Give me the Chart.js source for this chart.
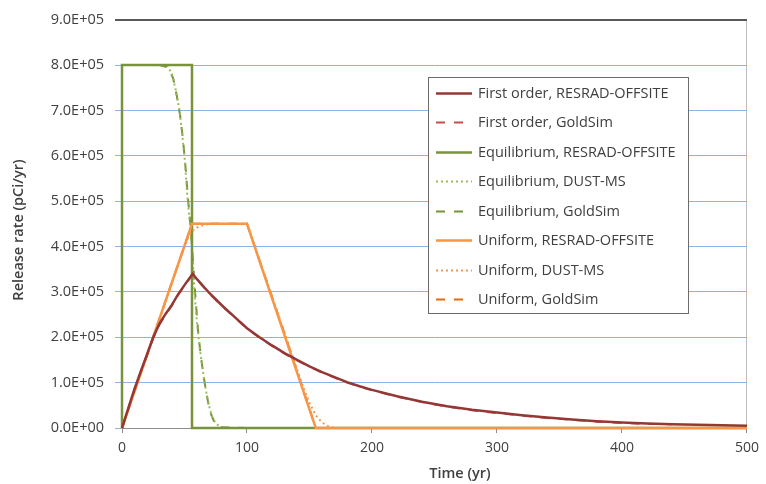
<!DOCTYPE html>
<html>
<head>
<meta charset="utf-8">
<script src="https://cdn.jsdelivr.net/npm/chart.js@4.4.1/dist/chart.umd.min.js"></script>
<style>
  html, body { margin: 0; padding: 0; background: #fff; }
  #wrap { width: 766px; height: 484px; }
</style>
</head>
<body>
<div id="wrap"><canvas id="chartRel" width="766" height="484"></canvas></div>
<script>
// release rates in units of 1E+05 pCi/yr
const seriesNames = [
  'First order, RESRAD-OFFSITE', 'First order, GoldSim',
  'Equilibrium, RESRAD-OFFSITE', 'Equilibrium, DUST-MS', 'Equilibrium, GoldSim',
  'Uniform, RESRAD-OFFSITE', 'Uniform, DUST-MS', 'Uniform, GoldSim'
];

const firstOrderT = [0, 5, 10, 15, 20, 25, 30, 35, 40, 45, 50, 56.5, 60, 70, 80, 90, 100, 110, 120, 130, 140, 150, 160, 170, 180, 190, 200, 220, 240, 260, 280, 300, 320, 340, 360, 380, 400, 420, 440, 460, 480, 500];
const firstOrderResrad = [0, 0.43, 0.86, 1.25, 1.62, 2.0, 2.3, 2.52, 2.72, 2.95, 3.15, 3.4, 3.28, 2.97, 2.7, 2.45, 2.2, 2.0, 1.82, 1.65, 1.5, 1.36, 1.23, 1.12, 1.01, 0.92, 0.84, 0.7, 0.58, 0.48, 0.4, 0.34, 0.28, 0.23, 0.19, 0.15, 0.12, 0.1, 0.08, 0.07, 0.06, 0.05];
const firstOrderGoldT = [0, 5, 10, 15, 20, 25, 30, 35, 40, 45, 50, 56.5, 60, 70, 80, 90, 100, 110, 120, 130, 140, 150, 160, 170, 180, 190, 200, 220, 240, 260, 280, 300, 320, 340, 360, 380, 400, 420, 440];
const firstOrderGold = [0, 0.42, 0.85, 1.24, 1.6, 1.98, 2.28, 2.5, 2.7, 2.94, 3.14, 3.38, 3.27, 2.96, 2.69, 2.44, 2.19, 1.99, 1.81, 1.64, 1.49, 1.35, 1.22, 1.11, 1.0, 0.91, 0.83, 0.69, 0.57, 0.47, 0.39, 0.33, 0.27, 0.22, 0.18, 0.14, 0.11, 0.09, 0.08];

const equilResradT = [0, 0, 56, 56, 500];
const equilResrad = [0, 8, 8, 0, 0];
const equilDustT = [0, 10, 20, 30, 36, 40, 43, 46, 48, 50, 52, 54, 56, 58, 60, 62, 64, 66, 68, 70, 72, 75, 80, 100, 200, 300, 400, 500];
const equilDust = [8, 8, 8, 8, 8, 7.8, 7.45, 7.0, 6.5, 6.0, 5.2, 4.6, 4.0, 3.0, 2.3, 1.8, 1.4, 1.0, 0.7, 0.45, 0.25, 0.1, 0, 0, 0, 0, 0, 0];
const equilGoldT = [0, 10, 20, 30, 37, 41, 44, 47, 49, 51, 53, 55, 57, 59, 61, 63, 65, 67, 69, 71, 74, 78, 100, 200, 300, 400, 500];
const equilGold = [8, 8, 8, 8, 7.95, 7.7, 7.3, 6.8, 6.3, 5.7, 5.0, 4.4, 3.6, 2.8, 2.1, 1.6, 1.2, 0.85, 0.55, 0.32, 0.12, 0.02, 0, 0, 0, 0, 0];

const uniformResradT = [0, 56, 100, 155, 500];
const uniformResrad = [0, 4.5, 4.5, 0, 0];
const uniformDustT = [0, 10, 20, 30, 40, 50, 55, 60, 65, 70, 80, 90, 100, 110, 120, 130, 140, 145, 150, 155, 160, 165, 170, 200, 300, 400, 500];
const uniformDust = [0, 0.8, 1.6, 2.4, 3.2, 4.0, 4.32, 4.42, 4.47, 4.5, 4.5, 4.5, 4.5, 3.7, 2.9, 2.1, 1.3, 0.9, 0.55, 0.28, 0.12, 0.04, 0, 0, 0, 0, 0];
const uniformGoldT = [0, 28, 56, 78, 100, 128, 155, 500];
const uniformGold = [0, 2.25, 4.5, 4.5, 4.5, 2.25, 0, 0];

const yTicksMax = 9; // 9.0E+05

function pts(ts, vs) {
  return ts.map((t, i) => ({ x: t, y: vs[i] * 1e5 }));
}

function sci(v) {
  if (v === 0) return '0.0E+00';
  const e = Math.floor(Math.log10(v) + 1e-9);
  const m = v / Math.pow(10, e);
  return m.toFixed(1) + 'E+' + String(e).padStart(2, '0');
}

const fontFam = "'Open Sans', sans-serif";

const legendBox = {
  id: 'legendBox',
  afterDraw(chart) {
    const ctx = chart.ctx;
    ctx.save();
    ctx.fillStyle = '#ffffff';
    ctx.fillRect(428, 77, 261, 237);
    ctx.strokeStyle = '#6b6b6b';
    ctx.lineWidth = 1;
    ctx.strokeRect(428.5, 77.5, 260, 236);
    ctx.font = '14.5px ' + fontFam;
    ctx.textBaseline = 'middle';
    chart.data.datasets.forEach((ds, i) => {
      const y = Math.round(92.7 + i * 29.5) + 0.5;
      ctx.strokeStyle = ds.borderColor;
      ctx.lineWidth = ds.borderWidth;
      ctx.setLineDash(ds.borderDash || []);
      ctx.beginPath();
      ctx.moveTo(436, y);
      ctx.lineTo(472, y);
      ctx.stroke();
      ctx.setLineDash([]);
      ctx.fillStyle = '#404040';
      ctx.fillText(ds.label, 478, y);
    });
    // axis titles
    ctx.fillStyle = '#404040';
    ctx.font = '600 14.5px ' + fontFam;
    ctx.textAlign = 'center';
    ctx.fillText('Time (yr)', 460, 474);
    ctx.translate(19, 230);
    ctx.rotate(-Math.PI / 2);
    ctx.fillText('Release rate (pCi/yr)', 0, 0);
    ctx.restore();
  }
};

const red = '#953735', red2 = '#c0504d';
const green = '#77933c', green2 = '#9bbb59';
const orange = '#f79646', orange2 = '#e46c0a';

let ctxRel = document.querySelector('#chartRel').getContext('2d');
let chartRel = new Chart(ctxRel, {
  type: 'line',
  data: {
    datasets: [
      { label: seriesNames[0], data: pts(firstOrderT, firstOrderResrad), borderColor: red, borderWidth: 2.5, order: 0 },
      { label: seriesNames[1], data: pts(firstOrderGoldT, firstOrderGold), borderColor: red2, borderWidth: 2, borderDash: [9, 9], order: 0 },
      { label: seriesNames[2], data: pts(equilResradT, equilResrad), borderColor: green, borderWidth: 2.5, order: 2 },
      { label: seriesNames[3], data: pts(equilDustT, equilDust), borderColor: green2, borderWidth: 2, borderDash: [2, 3], order: 2 },
      { label: seriesNames[4], data: pts(equilGoldT, equilGold), borderColor: green, borderWidth: 2, borderDash: [9, 9], order: 2 },
      { label: seriesNames[5], data: pts(uniformResradT, uniformResrad), borderColor: orange, borderWidth: 2.5, order: 1 },
      { label: seriesNames[6], data: pts(uniformDustT, uniformDust), borderColor: orange, borderWidth: 2, borderDash: [2, 3], order: 1 },
      { label: seriesNames[7], data: pts(uniformGoldT, uniformGold), borderColor: orange2, borderWidth: 2, borderDash: [9, 9], order: 1 }
    ]
  },
  options: {
    responsive: false,
    animation: false,
    elements: {
      point: { radius: 0 },
      line: { tension: 0, borderCapStyle: 'butt' }
    },
    datasets: { line: { clip: false, fill: false, pointRadius: 0 } },
    plugins: {
      legend: { display: false },
      tooltip: { enabled: false }
    },
    layout: {
      padding: { top: 19, bottom: 0, left: 0, right: 16 }
    },
    scales: {
      x: {
        type: 'linear',
        min: 0,
        max: 500,
        ticks: { stepSize: 100, color: '#404040', padding: 7, font: { family: fontFam, size: 14 } },
        grid: {
          color: c => c.tick && c.tick.value === 500 ? '#bfbfbf' : 'rgba(0,0,0,0)',
          tickColor: '#8c8c8c',
          tickLength: 5
        },
        border: { display: true, color: '#8c8c8c' },
        afterFit: s => { s.height = 56; }
      },
      y: {
        min: 0,
        max: yTicksMax * 1e5,
        ticks: { stepSize: 1e5, color: '#404040', padding: 11, callback: v => sci(v), font: { family: fontFam, size: 14.5 } },
        grid: {
          color: c => c.tick && c.tick.value === yTicksMax * 1e5 ? '#595959' : '#8db3e2',
          lineWidth: c => c.tick && c.tick.value === yTicksMax * 1e5 ? 2 : 1,
          tickLength: 7
        },
        border: { display: false },
        afterFit: s => { s.width = 122; }
      }
    }
  },
  plugins: [legendBox]
});
</script>
</body>
</html>
